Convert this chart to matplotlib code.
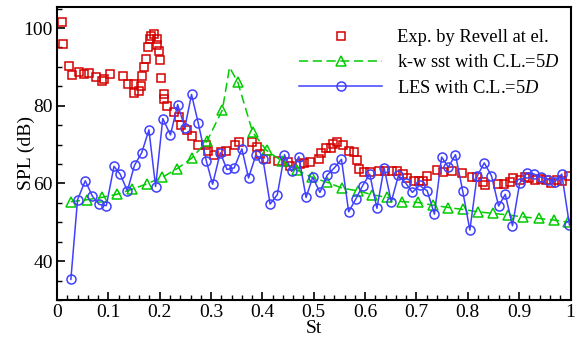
import numpy as np
import matplotlib.pyplot as plt
from matplotlib.ticker import MultipleLocator

plt.rcParams['font.family'] = ['Liberation Serif', 'DejaVu Serif']
plt.rcParams['mathtext.fontset'] = 'custom'
plt.rcParams['mathtext.it'] = 'Liberation Serif:italic'
plt.rcParams['mathtext.rm'] = 'Liberation Serif'

# Exp. by Revell
exp_st = [0.010, 0.011, 0.024, 0.029, 0.042, 0.052, 0.063, 0.076, 0.087, 0.091,
          0.103, 0.129, 0.138, 0.150, 0.150, 0.160, 0.163, 0.166, 0.169, 0.174,
          0.178, 0.181, 0.184, 0.188, 0.194, 0.195, 0.199, 0.200, 0.203, 0.208,
          0.209, 0.215, 0.228, 0.237, 0.241, 0.253, 0.263, 0.275, 0.291, 0.295,
          0.305, 0.319, 0.330, 0.347, 0.355, 0.379, 0.389, 0.396, 0.407, 0.431,
          0.450, 0.454, 0.473, 0.481, 0.492, 0.511, 0.515, 0.523, 0.534, 0.538,
          0.546, 0.557, 0.568, 0.579, 0.584, 0.589, 0.597, 0.610, 0.627, 0.639,
          0.652, 0.662, 0.673, 0.681, 0.696, 0.705, 0.712, 0.720, 0.740, 0.751,
          0.770, 0.788, 0.809, 0.817, 0.830, 0.834, 0.859, 0.871, 0.882, 0.888,
          0.901, 0.911, 0.920, 0.930, 0.943, 0.953, 0.962, 0.974, 0.983, 0.998]
exp_spl = [101.6, 96.0, 90.3, 88.0, 88.7, 88.2, 88.5, 87.4, 86.3, 86.9,
           88.2, 87.6, 85.5, 85.5, 83.2, 83.7, 85.2, 87.6, 90.0, 92.1,
           95.1, 97.1, 97.9, 98.4, 97.3, 95.6, 94.1, 91.7, 87.2, 83.0,
           81.7, 79.9, 78.3, 77.0, 75.1, 73.7, 72.2, 70.0, 69.9, 68.4,
           67.2, 68.1, 68.4, 69.8, 70.6, 70.7, 69.4, 67.6, 66.3, 65.7,
           65.6, 64.6, 64.9, 65.3, 65.6, 66.4, 67.8, 69.2, 69.2, 70.2,
           70.7, 69.8, 68.3, 68.0, 66.0, 63.8, 62.9, 62.9, 63.3, 63.3,
           63.3, 63.3, 62.4, 61.4, 60.7, 60.7, 60.7, 61.8, 63.4, 62.9,
           63.3, 62.7, 61.6, 61.6, 60.3, 59.5, 59.8, 59.8, 60.5, 61.4,
           61.0, 61.6, 61.4, 61.0, 61.2, 61.0, 60.1, 61.0, 60.7, 61.8]

# k-w sst, C.L.=5D
sst_st = [0.027, 0.058, 0.087, 0.116, 0.146, 0.175, 0.205, 0.234, 0.263, 0.292,
          0.322, 0.336, 0.352, 0.381, 0.408, 0.439, 0.468, 0.496, 0.526, 0.555,
          0.586, 0.614, 0.643, 0.672, 0.703, 0.733, 0.762, 0.791, 0.820, 0.849,
          0.878, 0.907, 0.938, 0.967, 0.996]
sst_spl = [55.3, 55.8, 56.4, 57.2, 58.5, 59.9, 61.6, 63.8, 66.6, 70.9,
           78.9, 89.9, 86.1, 73.2, 68.5, 65.7, 63.4, 61.6, 60.3, 58.8,
           58.1, 57.1, 56.4, 55.3, 55.1, 54.4, 53.8, 53.3, 52.7, 52.3,
           51.9, 51.4, 51.0, 50.6, 50.0]
sst_marked = [i for i in range(len(sst_st)) if i != 11]

# LES, C.L.=5D
les_st = [0.027, 0.040, 0.055, 0.069, 0.082, 0.096, 0.111, 0.123, 0.137, 0.151,
          0.165, 0.179, 0.192, 0.206, 0.221, 0.235, 0.249, 0.262, 0.275, 0.291,
          0.303, 0.318, 0.331, 0.345, 0.360, 0.373, 0.387, 0.401, 0.415, 0.429,
          0.443, 0.457, 0.471, 0.485, 0.498, 0.512, 0.526, 0.540, 0.554, 0.568,
          0.582, 0.595, 0.609, 0.623, 0.637, 0.651, 0.665, 0.679, 0.692, 0.706,
          0.721, 0.735, 0.749, 0.762, 0.776, 0.790, 0.804, 0.818, 0.832, 0.846,
          0.860, 0.873, 0.887, 0.901, 0.915, 0.929, 0.943, 0.957, 0.970, 0.983,
          0.998]
les_spl = [35.3, 55.8, 60.7, 56.7, 54.6, 54.3, 64.4, 62.4, 58.1, 64.7,
           67.9, 73.8, 59.2, 76.7, 72.5, 80.3, 74.4, 82.9, 75.6, 65.7,
           59.8, 67.9, 63.6, 64.0, 68.9, 61.4, 67.2, 66.3, 54.7, 57.1,
           67.4, 63.1, 66.9, 56.4, 61.6, 57.7, 62.1, 64.0, 66.2, 52.7,
           56.0, 59.4, 62.4, 53.6, 64.0, 55.3, 62.1, 60.1, 57.7, 59.5,
           58.1, 52.1, 66.8, 64.2, 67.4, 58.1, 48.0, 61.8, 65.3, 62.0,
           54.2, 57.2, 49.1, 60.1, 62.7, 62.4, 61.6, 61.0, 60.5, 62.4,
           49.3]

fig = plt.figure(figsize=(5.75, 3.38), dpi=100)
ax = fig.add_axes([57 / 575, 1 - 300 / 338, 513.5 / 575, 293.3 / 338])

red = '#d40000'
green = '#00cc00'
blue = '#4040ff'

ax.plot(exp_st, exp_spl, ls='none', marker='s', ms=6, mfc='none', mec=red,
        mew=1.1, label='Exp. by Revell at el.')
ax.plot(sst_st, sst_spl, ls=(0, (6, 3)), color=green, lw=1.1, marker='^', ms=6.5,
        mfc='none', mec=green, mew=1.1, markevery=sst_marked,
        label='k-w sst with C.L.=5$\\mathit{D}$')
ax.plot(les_st, les_spl, ls='-', color=blue, lw=1.1, marker='o', ms=6.5,
        mfc='none', mec=blue, mew=1.1, label='LES with C.L.=5$\\mathit{D}$')

ax.set_xlim(0, 1)
ax.set_ylim(30, 105.5)
ax.xaxis.set_minor_locator(MultipleLocator(0.02))
ax.yaxis.set_minor_locator(MultipleLocator(5))
ax.set_xticks(np.arange(0, 1.01, 0.1))
ax.set_xticklabels(['0', '0.1', '0.2', '0.3', '0.4', '0.5', '0.6', '0.7', '0.8', '0.9', '1'])
ax.set_yticks([40, 60, 80, 100])
ax.tick_params(which='both', direction='in', top=False, right=False, labelsize=14)
ax.tick_params(which='major', length=6, width=1.2)
ax.tick_params(which='minor', length=3.5, width=1.0)
ax.tick_params(axis='x', pad=3)
ax.tick_params(axis='y', pad=3)
for s in ax.spines.values():
    s.set_linewidth(1.5)

ax.set_xlabel('St', fontsize=14, labelpad=-0.5)
ax.set_ylabel('SPL (dB)', fontsize=14, labelpad=-8)

ax.legend(loc='upper left', bbox_to_anchor=(299 / 575, 1 - 29 / 338),
          bbox_transform=fig.transFigure, frameon=False, fontsize=13.3,
          handlelength=4.5, handletextpad=0.8, labelspacing=0.45,
          borderpad=0, borderaxespad=0)

fig.savefig('out.png', dpi=100)
